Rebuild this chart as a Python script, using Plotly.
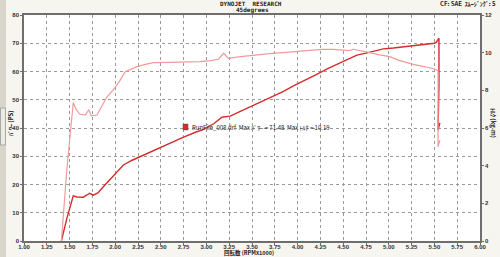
import plotly.graph_objects as go

# ---- data ----
rpm_power = [1.41, 1.47, 1.54, 1.58, 1.65, 1.72, 1.76, 1.81, 1.87, 1.95, 2.02, 2.09, 2.18, 2.27,
             2.38, 2.49, 2.62, 2.75, 2.88, 2.97, 3.08, 3.17, 3.26, 3.37, 3.48, 3.60, 3.72, 3.84,
             3.96, 4.09, 4.21, 4.33, 4.43, 4.50, 4.58, 4.65, 4.75, 4.85, 4.94, 5.05, 5.20, 5.30,
             5.40, 5.45, 5.50, 5.52, 5.55, 5.55, 5.54, 5.56]
power_ps = [0, 8, 16.0, 15.6, 15.5, 16.9, 16.2, 17.0, 19.2, 22.0, 24.5, 26.9, 28.5, 29.8,
            31.5, 33.2, 35.0, 36.8, 38.5, 39.5, 41.5, 43.8, 44.2, 45.8, 47.5, 49.3, 51.0, 52.9,
            55.0, 57.0, 59.0, 61.0, 62.5, 63.5, 64.8, 65.8, 66.5, 67.3, 68.0, 68.3, 68.8, 69.2,
            69.5, 69.7, 70.0, 70.3, 71.8, 55.0, 39.3, 41.8]

rpm_torque = [1.41, 1.47, 1.54, 1.57, 1.61, 1.67, 1.71, 1.74, 1.80, 1.86, 1.91, 1.98, 2.05, 2.11,
              2.18, 2.24, 2.33, 2.42, 2.60, 2.80, 2.93, 3.05, 3.13, 3.19, 3.24, 3.35, 3.47, 3.59,
              3.72, 3.84, 4.00, 4.14, 4.27, 4.39, 4.50, 4.57, 4.61, 4.70, 4.79, 4.90, 5.01, 5.12,
              5.27, 5.40, 5.51, 5.54, 5.54, 5.56]
torque_kgm = [0, 3.8, 7.34, 7.0, 6.74, 6.69, 6.96, 6.64, 6.69, 7.2, 7.66, 8.02, 8.5, 8.99,
              9.15, 9.26, 9.38, 9.47, 9.48, 9.50, 9.52, 9.58, 9.65, 9.97, 9.70, 9.78, 9.85, 9.91,
              9.96, 10.0, 10.07, 10.14, 10.17, 10.18, 10.15, 10.11, 10.18, 10.10, 10.0, 9.88, 9.79, 9.58,
              9.38, 9.25, 9.12, 9.04, 5.01, 5.36]

x_ticks = [1.00, 1.25, 1.50, 1.75, 2.00, 2.25, 2.50, 2.75, 3.00, 3.25, 3.50, 3.75, 4.00, 4.25,
           4.50, 4.75, 5.00, 5.25, 5.50, 5.75, 6.00]
x_labels = [f"{v:.2f}" for v in x_ticks]
y_left_ticks = [0, 10, 20, 30, 40, 50, 60, 70, 80]
y_right_ticks = [0, 2, 4, 6, 8, 10, 12]

legend_text = "RunFile_008.drf  Max ﾊﾟﾜｰ = 71.48  Max ﾄﾙｸ = 10.19"

# ---- figure ----
W, H = 500, 257
L, R, T, B = 24, 20, 15, 16
pw, ph = W - L - R, H - T - B

def px_x(p):
    return (p - L) / pw

def px_y(p):
    return (H - B - p) / ph

tickfont = dict(family="Liberation Sans", size=6, color="#333333", weight="bold")

fig = go.Figure()
fig.add_trace(go.Scatter(x=rpm_torque, y=torque_kgm, yaxis="y2", mode="lines",
                         line=dict(color="#f29a9a", width=1.2), showlegend=False))
fig.add_trace(go.Scatter(x=rpm_power, y=power_ps, mode="lines",
                         line=dict(color="#d42b2b", width=1.4), showlegend=False))

grid = dict(showgrid=True, gridcolor="#9a9a9a", gridwidth=1, griddash="dot")

fig.update_layout(
    width=W, height=H,
    margin=dict(l=L, r=R, t=T, b=B, autoexpand=False),
    paper_bgcolor="#f6f5f0",
    plot_bgcolor="#ffffff",
    xaxis=dict(range=[1, 6], tickvals=x_ticks, ticktext=x_labels, tickfont=tickfont,
               showline=True, linecolor="#6e6e6e", linewidth=1.5, mirror=True,
               ticks="outside", ticklen=2, tickcolor="#6e6e6e", zeroline=False,
               ticklabelstandoff=-3, automargin=False, **grid),
    yaxis=dict(range=[0, 80], tickvals=y_left_ticks, tickfont=tickfont,
               showline=True, linecolor="#6e6e6e", linewidth=1.5, mirror=True,
               ticks="outside", ticklen=2, tickcolor="#6e6e6e", zeroline=False,
               automargin=False, **grid),
    yaxis2=dict(range=[0, 12], tickvals=y_right_ticks, tickfont=tickfont,
                overlaying="y", side="right", showgrid=False, zeroline=False,
                showline=True, linecolor="#6e6e6e", linewidth=1.5,
                ticks="outside", ticklen=2, tickcolor="#6e6e6e", automargin=False),
    font=dict(family="Liberation Sans", color="#222222"),
)

def txt(text, x, y, size=6, fam="Noto Sans CJK JP", bold=True, xa="center", angle=0, color="#222"):
    return dict(text=text, x=px_x(x), y=px_y(y), xref="paper", yref="paper",
                xanchor=xa, yanchor="middle", textangle=angle, showarrow=False,
                font=dict(size=size, family=fam, weight="bold" if bold else "normal", color=color))

ann = [
    txt("DYNOJET  RESEARCH", 251, 3.5, fam="DejaVu Sans Mono"),
    txt("45degrees", 252, 9.5, fam="DejaVu Sans Mono"),
    txt("CF: SAE  ｽﾑｰｼﾞﾝｸﾞ: 5", 498, 3.5, xa="right"),
    txt("回転数 (RPMx1000)", 249, 253.5, size=5.5),
    txt("ﾊﾟﾜｰ (PS)", 11, 123, angle=-90),
    txt("ﾄﾙｸ (kg-m)", 493, 123, angle=90),
    txt(legend_text, 190, 127, size=6, bold=False, xa="left", color="#222"),
]
fig.update_layout(annotations=ann)

shapes = []
# legend colour box
shapes.append(dict(type="rect", xref="paper", yref="paper", x0=px_x(183), x1=px_x(188),
                   y0=px_y(130), y1=px_y(124), fillcolor="#d42b2b", line=dict(color="#555", width=0.5)))
# left window strip and scrollbar
shapes.append(dict(type="rect", xref="paper", yref="paper", x0=px_x(0), x1=px_x(6),
                   y0=px_y(257), y1=px_y(0), fillcolor="#d8d6cc", line=dict(width=0), layer="below"))
shapes.append(dict(type="rect", xref="paper", yref="paper", x0=px_x(0.5), x1=px_x(5.5),
                   y0=px_y(145), y1=px_y(108), fillcolor="#ebeae4", line=dict(color="#9a9890", width=0.8)))
fig.update_layout(shapes=shapes)

fig.write_html("out.html")
